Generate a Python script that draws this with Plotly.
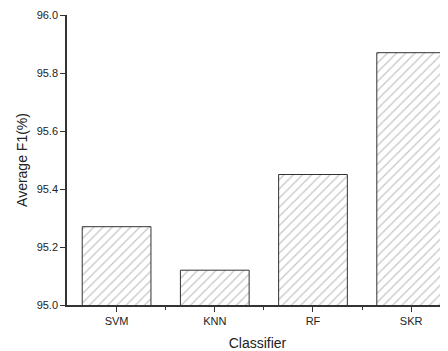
import plotly.graph_objects as go

categories = ["SVM", "KNN", "RF", "SKR"]
f1_values = [95.27, 95.12, 95.45, 95.87]
y_ticks = [95.0, 95.2, 95.4, 95.6, 95.8, 96.0]

xpos = list(range(len(categories)))

fig = go.Figure()
fig.add_trace(go.Bar(
    x=xpos, y=f1_values, width=0.7,
    marker=dict(
        color="white",
        line=dict(color="#333333", width=1),
        pattern=dict(shape="/", size=6.5, solidity=0.2, fgcolor="#8c8c8c", bgcolor="white", fillmode="overlay"),
    ),
))

fig.update_layout(
    width=448, height=351,
    margin=dict(l=59, r=8, t=7, b=54, autoexpand=False),
    plot_bgcolor="white", paper_bgcolor="white",
    showlegend=False,
    font=dict(family="Liberation Sans, Arial, sans-serif", color="#222222"),
)
fig.update_xaxes(
    automargin=False,
    range=[-0.505, 3.375],
    tickmode="array", tickvals=xpos, ticktext=categories,
    ticks="outside", ticklen=5, tickwidth=1, tickcolor="#333333",
    minor=dict(tickmode="array", tickvals=[0.5, 1.5, 2.5], ticks="outside", ticklen=3, tickwidth=1, tickcolor="#333333"),
    showline=True, linecolor="#333333", linewidth=1.5,
    showgrid=False, zeroline=False,
    tickfont=dict(size=11),
    title=dict(text="Classifier", font=dict(size=14), standoff=12),
)
fig.update_yaxes(
    automargin=False,
    range=[95.0, 96.0],
    tickmode="array", tickvals=y_ticks, ticktext=[f"{v:.1f}" for v in y_ticks],
    ticks="outside", ticklen=5, tickwidth=1, tickcolor="#333333",
    showline=True, linecolor="#333333", linewidth=1.5,
    showgrid=False, zeroline=False,
    tickfont=dict(size=11),
    title=dict(text="Average F1(%)", font=dict(size=14), standoff=6),
)

fig.write_html("out.html")
